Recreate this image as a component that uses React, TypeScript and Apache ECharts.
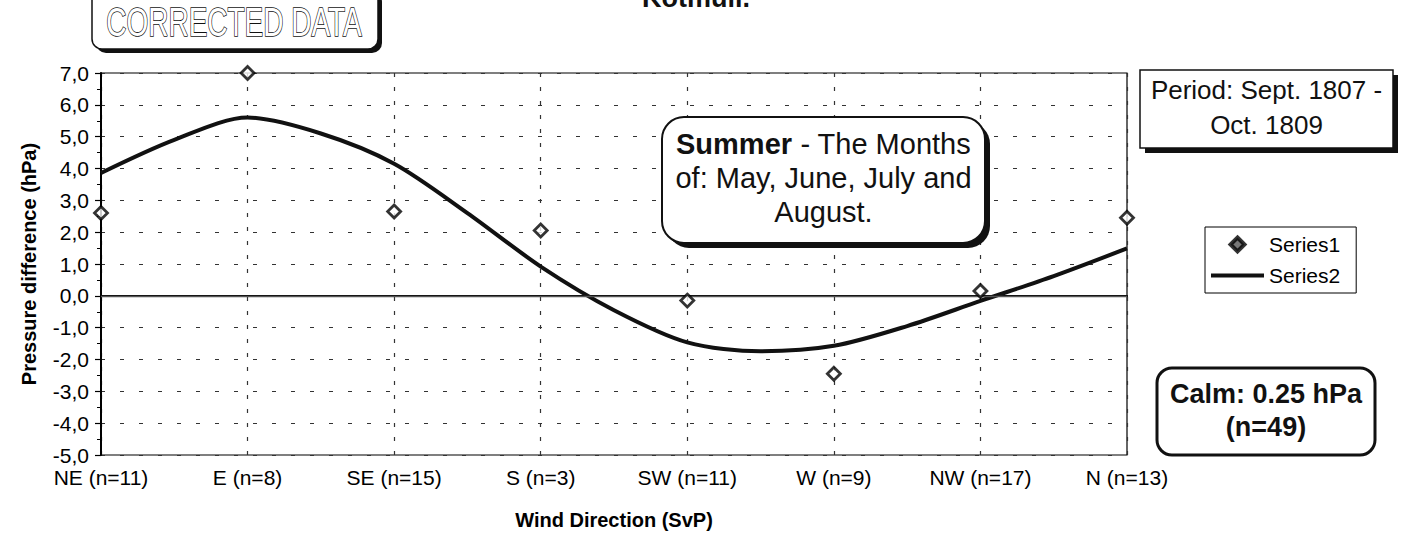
import React, { useEffect, useRef } from "react";
import * as echarts from "echarts";

const FONT = "'Liberation Sans', Arial, Helvetica, sans-serif";

const categories = [
  "NE (n=11)",
  "E (n=8)",
  "SE (n=15)",
  "S (n=3)",
  "SW (n=11)",
  "W (n=9)",
  "NW (n=17)",
  "N (n=13)",
];

// Series1: observed mean pressure differences (diamonds)
const series1Values = [2.6, 7.0, 2.65, 2.05, -0.15, -2.45, 0.15, 2.45];

// Series2: fitted curve, read at half-category steps
const series2Positions = [0, 0.5, 1, 1.5, 2, 2.5, 3, 3.5, 4, 4.5, 5, 5.5, 6, 6.5, 7];
const series2Values = [3.86, 4.9, 5.6, 5.1, 4.15, 2.6, 0.92, -0.45, -1.46, -1.74, -1.57, -0.95, -0.16, 0.62, 1.49];

const yMin = -5;
const yMax = 7;

const titleText = "Kotmuli.";
const stampText = "CORRECTED DATA";
const periodText = "Period: Sept. 1807 -\nOct. 1809";
const seasonText = "{b|Summer} - The Months\nof: May, June, July and\nAugust.";
const calmText = "Calm: 0.25 hPa\n(n=49)";

export default function App() {
  const ref = useRef<HTMLDivElement>(null);

  useEffect(() => {
    document.body.style.margin = "0";
    if (!ref.current) return;
    const chart = echarts.init(ref.current, null, { renderer: "svg" });

    const option: any = {
      animation: false,
      backgroundColor: "#fff",
      textStyle: { fontFamily: FONT },
      grid: {
        left: 101,
        top: 73,
        width: 1026,
        height: 382,
        show: true,
        borderColor: "#000",
        borderWidth: 1.2,
        backgroundColor: "transparent",
      },
      legend: {
        orient: "vertical",
        left: 1205,
        top: 227,
        itemWidth: 53,
        itemHeight: 14,
        itemGap: 10,
        padding: [7, 16, 7, 6],
        borderColor: "#000",
        borderWidth: 1,
        backgroundColor: "#fff",
        textStyle: { fontSize: 21, color: "#000", fontFamily: FONT },
        data: [
          {
            name: "Series1",
            icon: "path://M0,-1L1,0L0,1L-1,0Z",
            itemStyle: { color: "#555", borderColor: "#000", borderWidth: 4 },
          },
          {
            name: "Series2",
            icon: "path://M0,0H60V4.4H0Z",
            itemStyle: { color: "#111", borderWidth: 0 },
          },
        ],
      },
      xAxis: {
        type: "value",
        min: 0,
        max: categories.length - 1,
        interval: 1,
        name: "Wind Direction (SvP)",
        nameLocation: "middle",
        nameGap: 55,
        nameTextStyle: { fontSize: 20, fontWeight: "bold", color: "#000", fontFamily: FONT },
        axisLine: { lineStyle: { color: "#000", width: 2 } },
        axisTick: { show: false },
        axisLabel: {
          fontSize: 21,
          color: "#000",
          margin: 12,
          fontFamily: FONT,
          formatter: (v: number) => categories[Math.round(v)] ?? "",
        },
        splitLine: { show: true, lineStyle: { type: [4, 10], color: "#333", width: 1.2 } },
      },
      yAxis: {
        type: "value",
        min: yMin,
        max: yMax,
        interval: 1,
        name: "Pressure difference (hPa)",
        nameLocation: "middle",
        nameGap: 62,
        nameTextStyle: { fontSize: 20, fontWeight: "bold", color: "#000", fontFamily: FONT },
        axisLine: { show: true, lineStyle: { color: "#000", width: 2 } },
        axisTick: { show: true, length: 6, lineStyle: { color: "#000", width: 1.2 } },
        minorTick: { show: true, splitNumber: 2, length: 4, lineStyle: { color: "#000", width: 1 } },
        axisLabel: {
          fontSize: 21,
          color: "#000",
          margin: 12,
          fontFamily: FONT,
          formatter: (v: number) => v.toFixed(1).replace(".", ","),
        },
        splitLine: { show: true, lineStyle: { type: [4, 15], color: "#333", width: 1.2 } },
      },
      series: [
        {
          name: "Series2",
          type: "line",
          data: series2Positions.map((x, i) => [x, series2Values[i]]),
          smooth: 0.3,
          symbol: "none",
          showSymbol: false,
          lineStyle: { color: "#111", width: 4 },
          itemStyle: { color: "#111" },
          z: 3,
          markLine: {
            silent: true,
            symbol: ["none", "none"],
            label: { show: false },
            lineStyle: { type: "solid", color: "#555", width: 1.3 },
            data: [{ yAxis: 0 }],
          },
        },
        {
          name: "Series1",
          type: "scatter",
          data: series1Values.map((v, i) => [i, v]),
          symbol: "diamond",
          symbolSize: 13,
          itemStyle: { color: "#fff", borderColor: "#000", borderWidth: 2.8 },
          z: 5,
        },
      ],
      graphic: [
        {
          type: "text",
          x: 696,
          y: -2,
          style: {
            text: titleText,
            font: `bold 27px ${FONT}`,
            fill: "#111",
            align: "center",
            verticalAlign: "middle",
          },
        },
        // CORRECTED DATA stamp
        {
          type: "rect",
          shape: { x: 96, y: -8, width: 286, height: 61, r: 10 },
          style: { fill: "#111" },
        },
        {
          type: "rect",
          shape: { x: 92, y: -12, width: 286, height: 61, r: 10 },
          style: { fill: "#fff", stroke: "#111", lineWidth: 1.5 },
        },
        {
          type: "text",
          x: 234,
          y: 22,
          scaleX: 0.7,
          style: {
            text: stampText,
            font: `40px ${FONT}`,
            fill: "#fff",
            stroke: "#111",
            lineWidth: 1.6,
            align: "center",
            verticalAlign: "middle",
          },
        },
        // Period box
        {
          type: "rect",
          shape: { x: 1145, y: 75, width: 253, height: 78 },
          style: { fill: "#111" },
        },
        {
          type: "rect",
          shape: { x: 1140, y: 70, width: 253, height: 78 },
          style: { fill: "#fff", stroke: "#111", lineWidth: 1.5 },
        },
        {
          type: "text",
          x: 1266.5,
          y: 107,
          style: {
            text: periodText,
            font: `26px ${FONT}`,
            lineHeight: 35,
            fill: "#111",
            align: "center",
            verticalAlign: "middle",
          },
        },
        // Season box
        {
          type: "rect",
          shape: { x: 667, y: 122, width: 323, height: 126, r: 22 },
          style: { fill: "#111" },
          z: 10,
        },
        {
          type: "rect",
          shape: { x: 662, y: 117, width: 323, height: 126, r: 22 },
          style: { fill: "#fff", stroke: "#111", lineWidth: 2 },
          z: 10,
        },
        {
          type: "text",
          x: 823.5,
          y: 178,
          z: 11,
          style: {
            text: seasonText,
            font: `29px ${FONT}`,
            lineHeight: 34,
            fill: "#111",
            align: "center",
            verticalAlign: "middle",
            rich: {
              b: { fontWeight: "bold", fontSize: 29, fontFamily: FONT, fill: "#111", lineHeight: 34 },
            },
          },
        },
        // Calm box
        {
          type: "rect",
          shape: { x: 1157, y: 368, width: 218, height: 87, r: 15 },
          style: { fill: "#fff", stroke: "#111", lineWidth: 3 },
        },
        {
          type: "text",
          x: 1266,
          y: 410,
          style: {
            text: calmText,
            font: `bold 27px ${FONT}`,
            lineHeight: 33,
            fill: "#111",
            align: "center",
            verticalAlign: "middle",
          },
        },
      ],
    };

    chart.setOption(option);
    return () => chart.dispose();
  }, []);

  return (
    <div
      ref={ref}
      style={{ position: "absolute", left: 0, top: 0, width: 1406, height: 537 }}
    />
  );
}
